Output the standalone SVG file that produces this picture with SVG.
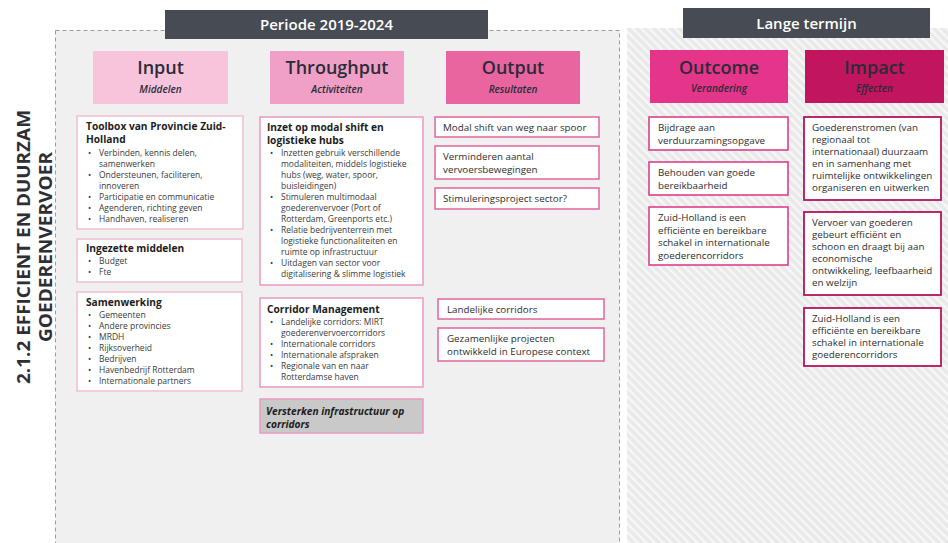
<svg xmlns="http://www.w3.org/2000/svg" width="948" height="543" viewBox="0 0 948 543">
  <defs>
    <pattern id="hatch" width="6" height="6" patternUnits="userSpaceOnUse" patternTransform="rotate(-45)">
      <rect width="6" height="6" fill="#e9e9e9"/>
      <rect width="2.4" height="6" fill="#f7f7f7"/>
    </pattern>
    <style>
      text { font-family: "Open Sans", "Noto Sans", "Liberation Sans", sans-serif; }
      .band { fill: #474b53; }
      .band-t { fill: #ffffff; font-size: 15px; font-weight: 600; text-anchor: middle; }
      .head-t { font-size: 18px; font-weight: 600; text-anchor: middle; fill: #2b2b38; }
      .head-s { font-size: 10px; font-weight: 600; font-style: italic; text-anchor: middle; fill: #2b2b38; }
      .box { fill: #ffffff; stroke-width: 1.5; }
      .in  { stroke: #f3bdd5; }
      .thr { stroke: #eb98c0; }
      .out { stroke: #e0649c; }
      .oc  { stroke: #d93483; }
      .im  { stroke: #b3155c; stroke-width: 1.8; }
      .ttl { font-size: 10.2px; font-weight: 700; fill: #1c1c1c; }
      .bl  { font-size: 8.5px; fill: #3a3a3a; }
      .tx  { font-size: 9.8px; fill: #2e2e2e; }
      .side { font-size: 17.5px; font-weight: 700; fill: #2e2e36; text-anchor: middle; }
    </style>
  </defs>

  <rect width="948" height="543" fill="#ffffff"/>

  <!-- period panels -->
  <g id="panel-periode">
    <rect x="55.5" y="30.5" width="564" height="530" fill="#f0f0f0" stroke="#9c9c9c" stroke-width="1" stroke-dasharray="4 3"/>
    <rect class="band" x="165" y="10" width="323" height="29"/>
    <text class="band-t" x="326.5" y="30">Periode 2019-2024</text>
  </g>
  <g id="panel-lange-termijn">
    <rect x="627" y="28" width="321" height="520" fill="url(#hatch)"/>
    <rect class="band" x="683" y="8" width="247" height="30"/>
    <text class="band-t" x="806.5" y="28.5">Lange termijn</text>
  </g>

  <!-- side title -->
  <g id="side-title" transform="translate(0,247) rotate(-90)">
    <text class="side" x="0" y="30" textLength="274" lengthAdjust="spacingAndGlyphs">2.1.2 EFFICIENT EN DUURZAM</text>
    <text class="side" x="0" y="52" textLength="190" lengthAdjust="spacingAndGlyphs">GOEDERENVERVOER</text>
  </g>

  <!-- column headers -->
  <g id="head-input">
    <rect x="93" y="51" width="135" height="53" fill="#f7c4dc"/>
    <text class="head-t" x="160.5" y="74">Input</text>
    <text class="head-s" x="160.5" y="93">Middelen</text>
  </g>
  <g id="head-throughput">
    <rect x="270" y="51" width="134" height="53" fill="#f0a0c7"/>
    <text class="head-t" x="337" y="74">Throughput</text>
    <text class="head-s" x="337" y="93">Activiteiten</text>
  </g>
  <g id="head-output">
    <rect x="446" y="51" width="134" height="53" fill="#e8659f"/>
    <text class="head-t" x="513" y="74">Output</text>
    <text class="head-s" x="513" y="93">Resultaten</text>
  </g>
  <g id="head-outcome">
    <rect x="650" y="50" width="138" height="53" fill="#e4358a"/>
    <text class="head-t" x="719" y="74" fill="#2a1828">Outcome</text>
    <text class="head-s" x="719" y="92" fill="#2a1828">Verandering</text>
  </g>
  <g id="head-impact">
    <rect x="805" y="50" width="139" height="53" fill="#c2155f"/>
    <text class="head-t" x="874.5" y="74" fill="#33101f">Impact</text>
    <text class="head-s" x="874.5" y="92" fill="#3a0c22">Effecten</text>
  </g>

  <!-- input column -->
  <g id="toolbox">
    <rect class="box in" x="77" y="116" width="166" height="113"/>
    <text class="ttl"><tspan x="86" y="130">Toolbox van Provincie Zuid-</tspan><tspan x="86" y="142.5">Holland</tspan></text>
    <text class="bl">
      <tspan x="88" y="156">•</tspan><tspan x="99" y="156">Verbinden, kennis delen,</tspan>
      <tspan x="99" y="167">samenwerken</tspan>
      <tspan x="88" y="178">•</tspan><tspan x="99" y="178">Ondersteunen, faciliteren,</tspan>
      <tspan x="99" y="189">innoveren</tspan>
      <tspan x="88" y="200">•</tspan><tspan x="99" y="200">Participatie en communicatie</tspan>
      <tspan x="88" y="211">•</tspan><tspan x="99" y="211">Agenderen, richting geven</tspan>
      <tspan x="88" y="222">•</tspan><tspan x="99" y="222">Handhaven, realiseren</tspan>
    </text>
  </g>
  <g id="ingezette-middelen">
    <rect class="box in" x="77" y="239" width="165" height="43"/>
    <text class="ttl" x="86" y="252">Ingezette middelen</text>
    <text class="bl">
      <tspan x="88" y="264">•</tspan><tspan x="99" y="264">Budget</tspan>
      <tspan x="88" y="275">•</tspan><tspan x="99" y="275">Fte</tspan>
    </text>
  </g>
  <g id="samenwerking">
    <rect class="box in" x="77" y="292" width="165" height="99"/>
    <text class="ttl" x="86" y="306">Samenwerking</text>
    <text class="bl">
      <tspan x="88" y="318">•</tspan><tspan x="99" y="318">Gemeenten</tspan>
      <tspan x="88" y="329">•</tspan><tspan x="99" y="329">Andere provincies</tspan>
      <tspan x="88" y="340">•</tspan><tspan x="99" y="340">MRDH</tspan>
      <tspan x="88" y="351">•</tspan><tspan x="99" y="351">Rijksoverheid</tspan>
      <tspan x="88" y="362">•</tspan><tspan x="99" y="362">Bedrijven</tspan>
      <tspan x="88" y="373">•</tspan><tspan x="99" y="373">Havenbedrijf Rotterdam</tspan>
      <tspan x="88" y="384">•</tspan><tspan x="99" y="384">Internationale partners</tspan>
    </text>
  </g>

  <!-- throughput column -->
  <g id="modal-shift-hubs">
    <rect class="box thr" x="260" y="117" width="163" height="168"/>
    <text class="ttl"><tspan x="267" y="131">Inzet op modal shift en</tspan><tspan x="267" y="143.5">logistieke hubs</tspan></text>
    <text class="bl">
      <tspan x="270" y="156">•</tspan><tspan x="281" y="156">Inzetten gebruik verschillende</tspan>
      <tspan x="281" y="167">modaliteiten, middels logistieke</tspan>
      <tspan x="281" y="178">hubs (weg, water, spoor,</tspan>
      <tspan x="281" y="189">buisleidingen)</tspan>
      <tspan x="270" y="200">•</tspan><tspan x="281" y="200">Stimuleren multimodaal</tspan>
      <tspan x="281" y="211">goederenvervoer (Port of</tspan>
      <tspan x="281" y="222">Rotterdam, Greenports etc.)</tspan>
      <tspan x="270" y="233">•</tspan><tspan x="281" y="233">Relatie bedrijventerrein met</tspan>
      <tspan x="281" y="244">logistieke functionaliteiten en</tspan>
      <tspan x="281" y="255">ruimte op infrastructuur</tspan>
      <tspan x="270" y="266">•</tspan><tspan x="281" y="266">Uitdagen van sector voor</tspan>
      <tspan x="281" y="277">digitalisering &amp; slimme logistiek</tspan>
    </text>
  </g>
  <g id="corridor-management">
    <rect class="box thr" x="260" y="298" width="163" height="89"/>
    <text class="ttl" x="267" y="313">Corridor Management</text>
    <text class="bl">
      <tspan x="270" y="325">•</tspan><tspan x="281" y="325">Landelijke corridors: MIRT</tspan>
      <tspan x="281" y="336">goederenvervoercorridors</tspan>
      <tspan x="270" y="347">•</tspan><tspan x="281" y="347">Internationale corridors</tspan>
      <tspan x="270" y="358">•</tspan><tspan x="281" y="358">Internationale afspraken</tspan>
      <tspan x="270" y="369">•</tspan><tspan x="281" y="369">Regionale van en naar</tspan>
      <tspan x="281" y="380">Rotterdamse haven</tspan>
    </text>
  </g>
  <g id="versterken-infrastructuur">
    <rect class="box thr" x="260" y="399" width="163" height="34" style="fill:#c9c9c9"/>
    <text class="ttl" font-style="italic"><tspan x="266" y="414.5">Versterken infrastructuur op</tspan><tspan x="266" y="427.5">corridors</tspan></text>
  </g>

  <!-- output column -->
  <g id="modal-shift-spoor">
    <rect class="box out" x="435" y="117" width="164" height="20"/>
    <text class="tx" x="443" y="131">Modal shift van weg naar spoor</text>
  </g>
  <g id="vervoersbewegingen">
    <rect class="box out" x="435" y="146" width="164" height="33"/>
    <text class="tx"><tspan x="443" y="160">Verminderen aantal</tspan><tspan x="443" y="173">vervoersbewegingen</tspan></text>
  </g>
  <g id="stimuleringsproject">
    <rect class="box out" x="435" y="188" width="164" height="21"/>
    <text class="tx" x="443" y="202">Stimuleringsproject sector?</text>
  </g>
  <g id="landelijke-corridors">
    <rect class="box out" x="438" y="299" width="166" height="20"/>
    <text class="tx" x="447" y="313">Landelijke corridors</text>
  </g>
  <g id="europese-projecten">
    <rect class="box out" x="438" y="328" width="166" height="33"/>
    <text class="tx"><tspan x="447" y="342">Gezamenlijke projecten</tspan><tspan x="447" y="355">ontwikkeld in Europese context</tspan></text>
  </g>

  <!-- outcome column -->
  <g id="verduurzaming">
    <rect class="box oc" x="649" y="117" width="139" height="33"/>
    <text class="tx"><tspan x="658" y="131">Bijdrage aan</tspan><tspan x="658" y="144">verduurzamingsopgave</tspan></text>
  </g>
  <g id="bereikbaarheid">
    <rect class="box oc" x="649" y="162" width="139" height="33"/>
    <text class="tx"><tspan x="658" y="176">Behouden van goede</tspan><tspan x="658" y="189">bereikbaarheid</tspan></text>
  </g>
  <g id="schakel-outcome">
    <rect class="box oc" x="649" y="207" width="139" height="58"/>
    <text class="tx"><tspan x="658" y="221">Zuid-Holland is een</tspan><tspan x="658" y="233.5">efficiënte en bereikbare</tspan><tspan x="658" y="246">schakel in internationale</tspan><tspan x="658" y="258.5">goederencorridors</tspan></text>
  </g>

  <!-- impact column -->
  <g id="goederenstromen">
    <rect class="box im" x="804" y="117" width="137" height="83"/>
    <text class="tx"><tspan x="812" y="131">Goederenstromen (van</tspan><tspan x="812" y="143">regionaal tot</tspan><tspan x="812" y="155">internationaal) duurzaam</tspan><tspan x="812" y="167">en in samenhang met</tspan><tspan x="812" y="179">ruimtelijke ontwikkelingen</tspan><tspan x="812" y="191">organiseren en uitwerken</tspan></text>
  </g>
  <g id="vervoer-goederen">
    <rect class="box im" x="804" y="212" width="137" height="83"/>
    <text class="tx"><tspan x="812" y="226">Vervoer van goederen</tspan><tspan x="812" y="238">gebeurt efficiënt en</tspan><tspan x="812" y="250">schoon en draagt bij aan</tspan><tspan x="812" y="262">economische</tspan><tspan x="812" y="274">ontwikkeling, leefbaarheid</tspan><tspan x="812" y="286">en welzijn</tspan></text>
  </g>
  <g id="schakel-impact">
    <rect class="box im" x="804" y="308" width="137" height="58"/>
    <text class="tx"><tspan x="812" y="322">Zuid-Holland is een</tspan><tspan x="812" y="334">efficiënte en bereikbare</tspan><tspan x="812" y="346">schakel in internationale</tspan><tspan x="812" y="358">goederencorridors</tspan></text>
  </g>

  <g id="connectors"/>
</svg>
